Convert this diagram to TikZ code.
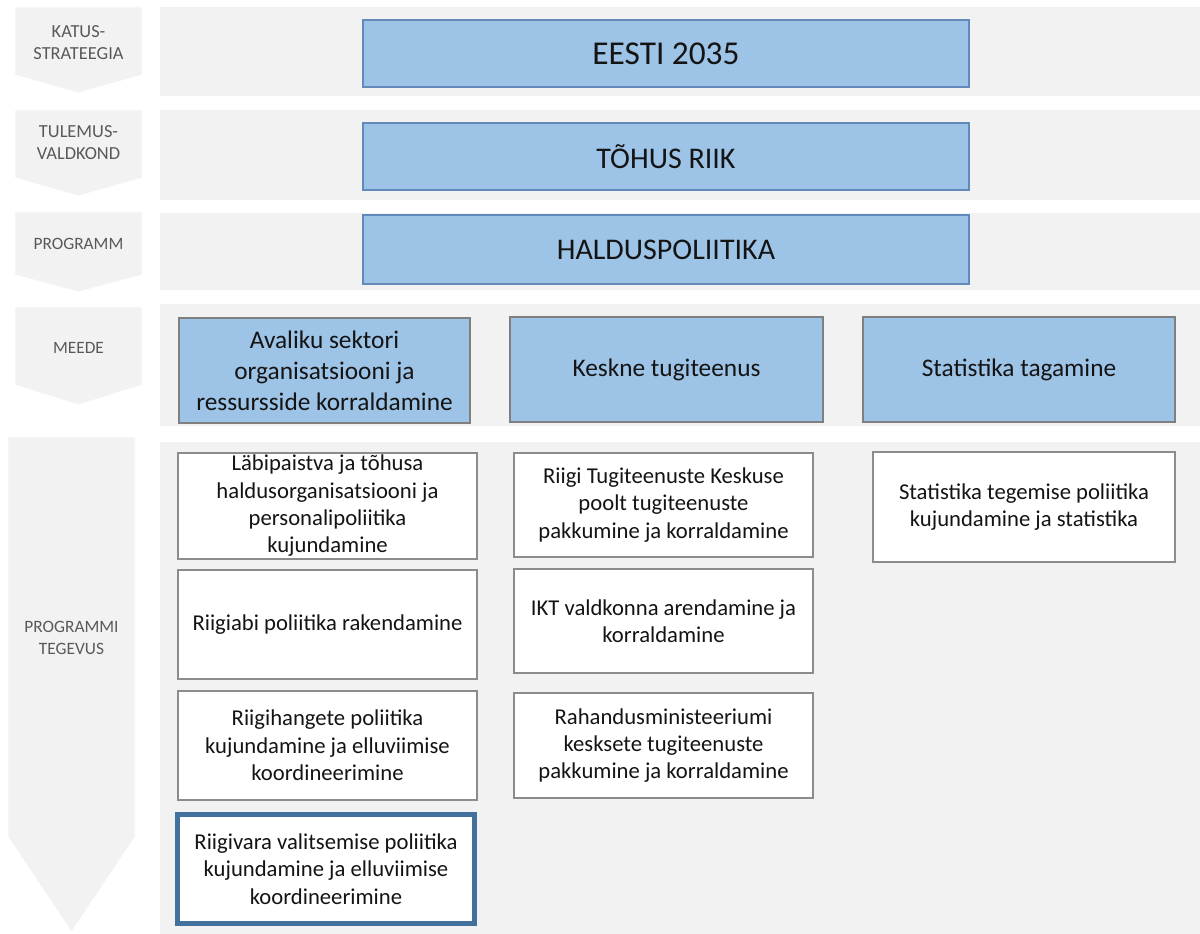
\documentclass[tikz,border=0pt]{standalone}
\usepackage{fontspec}
\setmainfont{Carlito}
\definecolor{panelgray}{HTML}{F2F2F2}
\definecolor{labelgray}{HTML}{595959}
\definecolor{boxblue}{HTML}{9DC3E6}
\definecolor{topborder}{HTML}{6189BA}
\definecolor{meedeborder}{HTML}{7F7F7F}
\definecolor{actborder}{HTML}{8C8C8C}
\definecolor{keyborder}{HTML}{41719C}
\definecolor{txt}{HTML}{141414}
\begin{document}
\begin{tikzpicture}[x=0.75pt,y=-0.75pt,
  panel/.style={fill=panelgray, draw=none},
  chev/.style={fill=panelgray, draw=white, line width=0.6pt},
  chevlabel/.style={text=labelgray, font=\fontsize{13}{16}\selectfont, align=center, inner sep=0pt},
  biglabel/.style={chevlabel, font=\fontsize{13.8}{16.5}\selectfont},
  sz/.style 2 args={minimum width=0.75pt*#1, minimum height=0.75pt*#2},
  topbox/.style={draw=topborder, line width=1.3pt, fill=boxblue, text=txt, font=\fontsize{22.5}{27}\selectfont, inner sep=0pt},
  meedebox/.style={draw=meedeborder, line width=0.9pt, fill=boxblue, text=txt, font=\fontsize{19}{23.3}\selectfont, align=center, inner sep=0pt},
  actbox/.style={draw=actborder, line width=0.9pt, fill=white, text=txt, font=\fontsize{17}{20.5}\selectfont, align=center, inner sep=0pt},
  keybox/.style={actbox, draw=keyborder, line width=3.8pt},
]
\useasboundingbox (0,0) rectangle (1200,934);
\fill[white] (0,0) rectangle (1200,934);

% row panels
\path[panel] (160,7) rectangle (1200,96);
\path[panel] (160,110) rectangle (1200,200);
\path[panel] (160,213) rectangle (1200,290);
\path[panel] (160,304) rectangle (1200,426);
\path[panel] (160,442) rectangle (1200,934);

% chevrons
\path[chev] (15,7) -- (142,7) -- (142,75) -- (78.5,93) -- (15,75) -- cycle;
\path[chev] (15,110) -- (142,110) -- (142,178) -- (78.5,196) -- (15,178) -- cycle;
\path[chev] (15,212) -- (142,212) -- (142,275) -- (78.5,292) -- (15,275) -- cycle;
\path[chev] (15,307) -- (142,307) -- (142,385) -- (78.5,405) -- (15,385) -- cycle;
\path[chev] (8,437) -- (135,437) -- (135,837) -- (71.5,932) -- (8,837) -- cycle;

\node[biglabel] (l1) at (78.5,43) {KATUS-\\STRATEEGIA};
\node[biglabel] (l2) at (78.5,143) {TULEMUS-\\VALDKOND};
\node[chevlabel] (l3) at (78.5,244) {PROGRAMM};
\node[chevlabel] (l4) at (78.5,348) {MEEDE};
\node[chevlabel] (l5) at (71.5,638) {PROGRAMMI\\TEGEVUS};

% top boxes
\node[topbox, sz={606}{67}, font=\fontsize{25}{30}\selectfont] (eesti) at (666,53.5) {EESTI 2035};
\node[topbox, sz={606}{67}] (tohus) at (666,156.5) {TÕHUS RIIK};
\node[topbox, sz={606}{69}] (haldus) at (666,249.5) {HALDUSPOLIITIKA};

% meede boxes
\node[meedebox, sz={291}{105}] (m1) at (324.5,370.5) {Avaliku sektori\\organisatsiooni ja\\ressursside korraldamine};
\node[meedebox, sz={313}{105}] (m2) at (666.5,369.5) {Keskne tugiteenus};
\node[meedebox, sz={312}{105}] (m3) at (1019,369.5) {Statistika tagamine};

% activities column 1
\node[actbox, sz={299}{106}] (a1) at (327.5,506) {Läbipaistva ja tõhusa\\haldusorganisatsiooni ja\\personalipoliitika\\kujundamine};
\node[actbox, sz={299}{109}] (a2) at (327.5,624.5) {Riigiabi poliitika rakendamine};
\node[actbox, sz={299}{109}] (a3) at (327.5,745.5) {Riigihangete poliitika\\kujundamine ja elluviimise\\koordineerimine};
\node[keybox, sz={297}{109}] (a4) at (326,869) {Riigivara valitsemise poliitika\\kujundamine ja elluviimise\\koordineerimine};

% activities column 2
\node[actbox, sz={299}{104}] (b1) at (663.5,505) {Riigi Tugiteenuste Keskuse\\poolt tugiteenuste\\pakkumine ja korraldamine};
\node[actbox, sz={299}{104}] (b2) at (663.5,621) {IKT valdkonna arendamine ja\\korraldamine};
\node[actbox, sz={299}{105}] (b3) at (663.5,745.5) {Rahandusministeeriumi\\kesksete tugiteenuste\\pakkumine ja korraldamine};

% activities column 3
\node[actbox, sz={302}{110}] (c1) at (1024,507) {Statistika tegemise poliitika\\kujundamine ja statistika};
\end{tikzpicture}
\end{document}
